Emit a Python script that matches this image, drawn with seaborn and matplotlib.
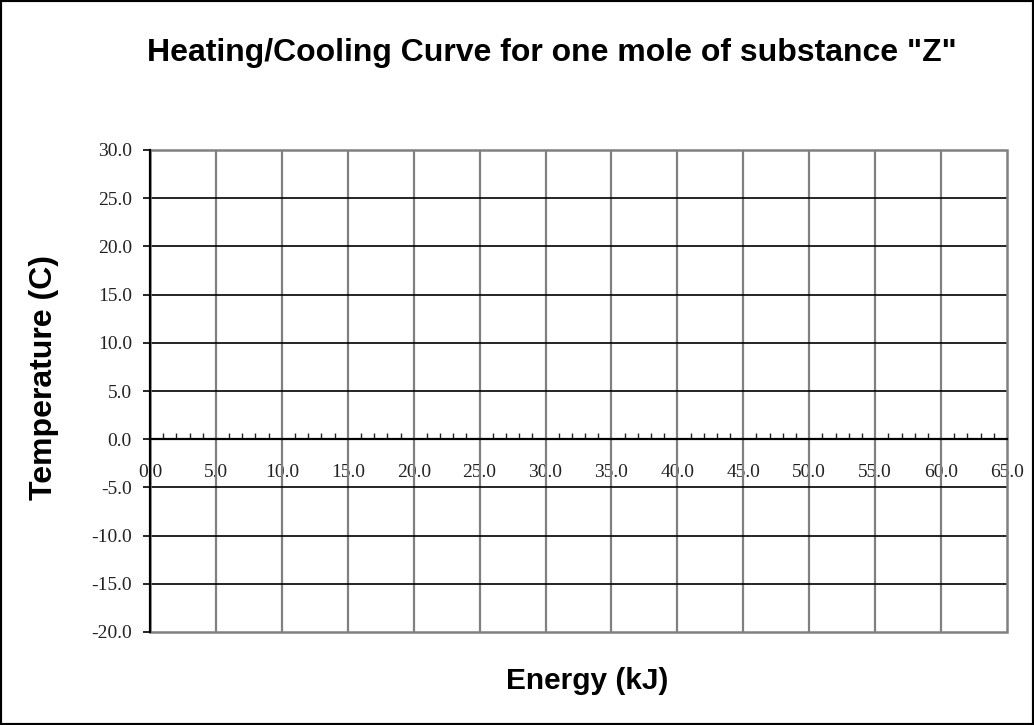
import matplotlib
matplotlib.use("Agg")
import matplotlib.pyplot as plt
import seaborn as sns
import numpy as np
from matplotlib.patches import Rectangle
from matplotlib.ticker import MultipleLocator, FixedLocator

sns.set_theme(style="white")

title = 'Heating/Cooling Curve for one mole of substance "Z"'
x_label = "Energy (kJ)"
y_label = "Temperature (C)"
x_ticks = [0.0, 5.0, 10.0, 15.0, 20.0, 25.0, 30.0, 35.0, 40.0, 45.0, 50.0, 55.0, 60.0, 65.0]
y_ticks = [-20.0, -15.0, -10.0, -5.0, 0.0, 5.0, 10.0, 15.0, 20.0, 25.0, 30.0]
energy = []        # no data series plotted in the reference
temperature = []

fig = plt.figure(figsize=(10.34, 7.25), dpi=100)
ax = fig.add_axes([150/1034, 1 - 632/725, (1007 - 150)/1034, (632 - 150)/725])

sns.lineplot(x=np.array(energy, dtype=float), y=np.array(temperature, dtype=float), ax=ax)

ax.set_xlim(x_ticks[0], x_ticks[-1])
ax.set_ylim(y_ticks[0], y_ticks[-1])

# grid lines
for xv in x_ticks[1:-1]:
    ax.axvline(xv, color="#808080", lw=1.6, zorder=1)
for yv in y_ticks[1:-1]:
    ax.axhline(yv, color="black", lw=1.2, zorder=1)

# spines
for s in ["top", "right"]:
    ax.spines[s].set_visible(False)
ax.add_patch(Rectangle((0, 0), 1, 1, transform=ax.transAxes, fill=False,
                       edgecolor="#808080", lw=1.8, zorder=2, clip_on=False))
ax.spines["left"].set_color("black")
ax.spines["left"].set_linewidth(1.6)
ax.spines["left"].set_zorder(3)
ax.spines["bottom"].set_position(("data", 0))
ax.spines["bottom"].set_color("black")
ax.spines["bottom"].set_linewidth(1.6)
ax.spines["bottom"].set_zorder(3)

tick_font = dict(family="Liberation Serif", size=14)
ax.xaxis.set_major_locator(FixedLocator(x_ticks))
ax.xaxis.set_minor_locator(MultipleLocator(1))
ax.set_xticklabels([f"{v:.1f}" for v in x_ticks], fontdict=tick_font)
ax.yaxis.set_major_locator(FixedLocator(y_ticks))
ax.set_yticklabels([f"{v:.1f}" for v in y_ticks], fontdict=tick_font)

ax.tick_params(axis="x", which="major", direction="in", length=0, pad=18, colors="black",
               labelcolor="#222222")
ax.tick_params(axis="x", which="minor", direction="in", length=4, width=1.0, color="#222222")
ax.tick_params(axis="y", which="major", direction="out", length=5, width=1.2, pad=8,
               color="black", labelcolor="#222222", left=True)
ax.xaxis.set_ticks_position("bottom")

fig.text(0.534, 1 - 61/725, title, ha="center", va="baseline",
         family="Liberation Sans", weight="bold", size=23, color="black")
fig.text(587/1034, 1 - 689/725, x_label, ha="center", va="baseline",
         family="Liberation Sans", weight="bold", size=21.5, color="black")
fig.text(52/1034, 1 - 377.5/725, y_label, ha="center", va="baseline", rotation=90,
         rotation_mode="anchor",
         family="Liberation Sans", weight="bold", size=23, color="black")

fig.add_artist(Rectangle((0, 0), 1, 1, transform=fig.transFigure, fill=False,
                         edgecolor="black", lw=3))

fig.savefig("out.png", dpi=100)
